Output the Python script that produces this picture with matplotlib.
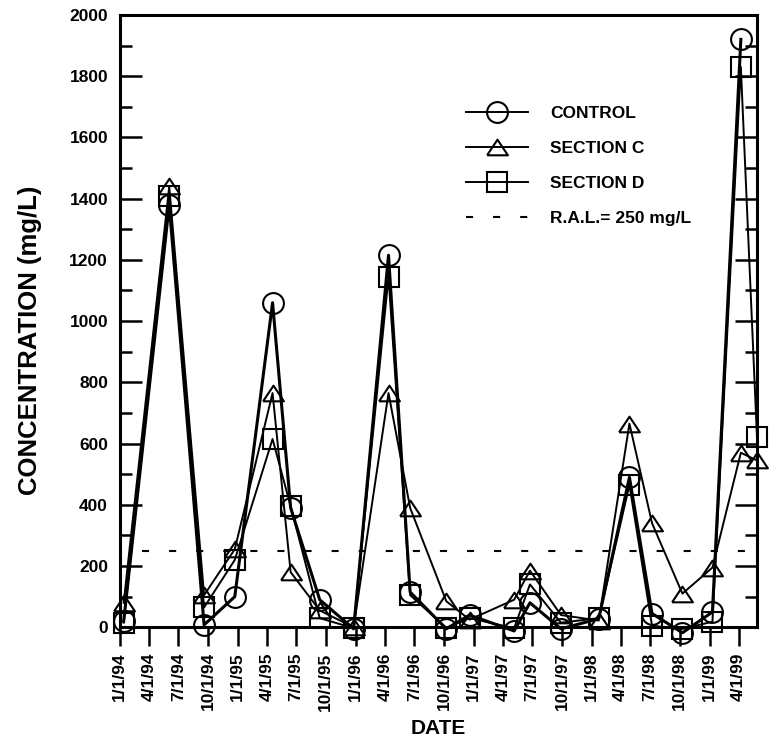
"""Sulfate concentration in groundwater: control vs. sections C and D."""

import matplotlib
matplotlib.use("Agg")
import matplotlib.pyplot as plt
import numpy as np
import pandas as pd
from matplotlib.lines import Line2D
from matplotlib.ticker import MultipleLocator

plt.rcParams["font.family"] = ["Liberation Sans", "DejaVu Sans"]
plt.rcParams["font.weight"] = "bold"

# sampling dates
sample_dates = pd.to_datetime([
    "1994-01-13", "1994-06-03", "1994-09-19", "1994-12-23", "1995-04-19",
    "1995-06-14", "1995-09-12", "1995-12-26", "1996-04-12", "1996-06-18",
    "1996-10-08", "1996-12-19", "1997-05-06", "1997-06-24", "1997-09-28",
    "1998-01-23", "1998-04-28", "1998-07-07", "1998-10-09", "1999-01-10",
    "1999-04-08", "1999-05-28",
])

# concentrations, mg/L
control = [20, 1380, 8, 100, 1060, 390, 90, -5, 1215, 115, -5, 40,
           -12, 80, -5, 28, 490, 45, -18, 50, 1920, np.nan]
section_c = [80, 1440, 105, 255, 765, 180, 55, 0, 765, 390, 85, 25,
             90, 185, 40, 22, 665, 340, 110, 195, 570, 545]
section_d = [15, 1410, 65, 220, 615, 395, 30, -3, 1145, 105, -2, 30,
             -3, 140, 15, 30, 465, 5, -5, 18, 1830, 620]

ral_limit = 250
ral_start, ral_end = pd.Timestamp("1994-03-12"), pd.Timestamp("1999-04-28")

tick_dates = pd.date_range("1994-01-01", "1999-04-01", freq="QS")
tick_labels = [f"{d.month}/{d.day}/{d.strftime('%y')}" for d in tick_dates]

# flattened open triangle like the original
tri = [(-1, -0.75), (1, -0.75), (0, 0.75), (-1, -0.75)]
dash = (0, (3.4, 9.6))

fig = plt.figure(figsize=(7.78, 7.45), dpi=100)
ax = fig.add_axes([0.154, 0.158, 0.819, 0.822])

common = dict(color="black", mfc="none", mec="black", mew=1.5, ms=15,
              clip_on=False)
ax.plot(sample_dates, control, marker="o", lw=2.2, **common)
ax.plot(sample_dates, section_c, marker=tri, lw=1.4, **common)
ax.plot(sample_dates, section_d, marker="s", lw=1.4, **common)
ax.hlines(ral_limit, ral_start, ral_end, color="black", lw=1.5, linestyle=dash)

ax.set_xlim(pd.Timestamp("1994-01-01"), pd.Timestamp("1999-05-28"))
ax.set_ylim(0, 2000)

ax.set_xticks(tick_dates)
ax.set_xticklabels(tick_labels, rotation=90, fontsize=12.5, fontweight="bold")
ax.tick_params(axis="x", direction="out", length=14, width=1.8, pad=4)

ax.yaxis.set_major_locator(MultipleLocator(200))
ax.yaxis.set_minor_locator(MultipleLocator(100))
ax.tick_params(axis="y", which="both", direction="in", left=True, right=True,
               width=1.8, labelsize=12.5, pad=8.5)
ax.tick_params(axis="y", which="major", length=16)
ax.tick_params(axis="y", which="minor", length=8.5)
for lbl in ax.get_yticklabels():
    lbl.set_fontweight("bold")

for sp in ax.spines.values():
    sp.set_linewidth(2.2)

ax.set_xlabel("DATE", fontsize=15, fontweight="bold", labelpad=6)
ax.set_ylabel("CONCENTRATION (mg/L)", fontsize=18.5, fontweight="bold")
ax.yaxis.set_label_coords(-0.122, 0.469)

# legend keys all drawn with the thin line, as in the original
handles = [
    Line2D([], [], marker="o", lw=1.4, **{k: v for k, v in common.items() if k != "clip_on"}),
    Line2D([], [], marker=tri, lw=1.4, **{k: v for k, v in common.items() if k != "clip_on"}),
    Line2D([], [], marker="s", lw=1.4, **{k: v for k, v in common.items() if k != "clip_on"}),
    Line2D([], [], color="black", lw=1.5, linestyle=dash),
]
labels = ["CONTROL", "SECTION C", "SECTION D", "R.A.L.= 250 mg/L"]
ax.legend(handles, labels, loc="upper left", bbox_to_anchor=(0.543, 0.852),
          frameon=False, fontsize=12.5, numpoints=1, handlelength=3.6,
          handletextpad=1.25, labelspacing=1.15, borderpad=0, borderaxespad=0)

fig.savefig("out.png", dpi=100)
plt.close(fig)
